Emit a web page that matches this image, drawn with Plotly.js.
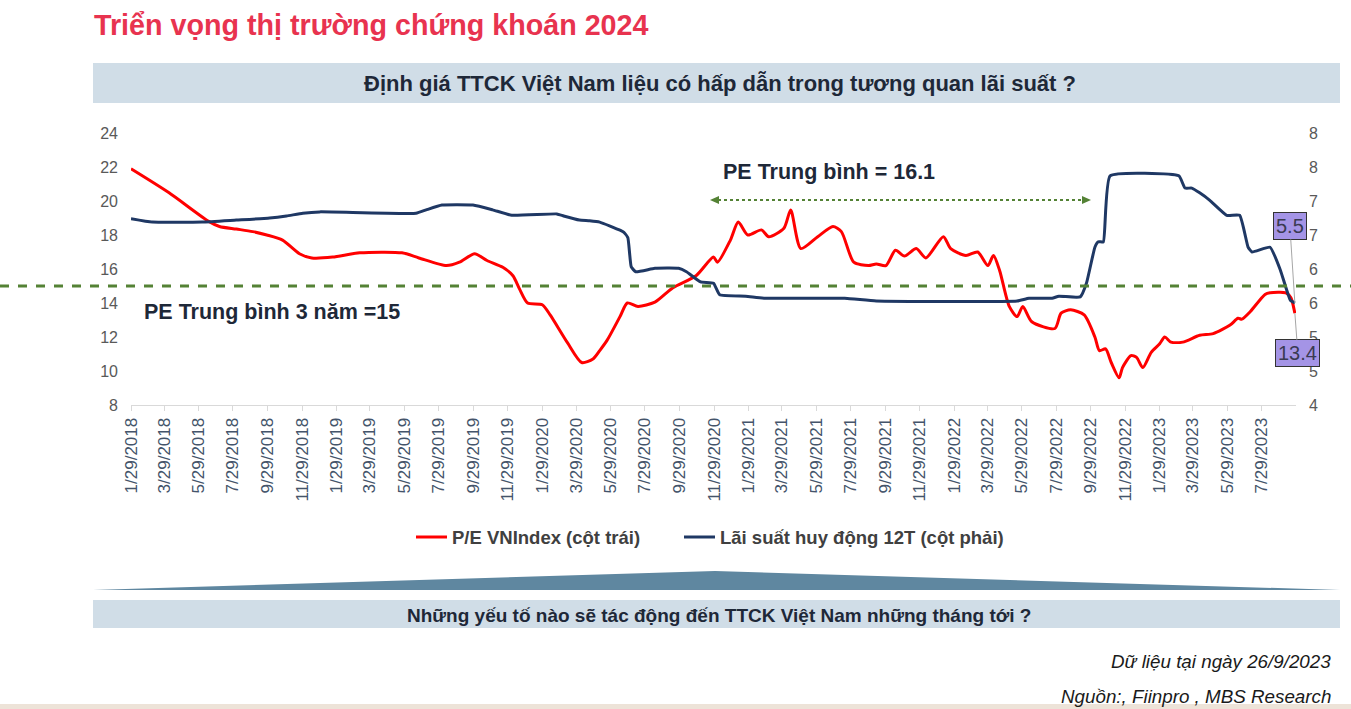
<!DOCTYPE html>
<html>
<head>
<meta charset="utf-8">
<script src="https://cdn.plot.ly/plotly-3.0.1.min.js"></script>
<style>
html,body{margin:0;padding:0;background:#fff;}
#chart{width:1351px;height:709px;}
</style>
</head>
<body>
<div id="chart"></div>
<script>
// ---------------- DATA ----------------
const peDates = [
"2018-01-29","2018-04-06","2018-06-16","2018-07-05","2018-08-04","2018-09-02","2018-09-27","2018-10-25",
"2018-11-24","2018-12-16","2019-01-22","2019-03-11","2019-05-25","2019-06-24","2019-08-12","2019-09-04",
"2019-10-01","2019-10-23","2019-11-20","2019-12-08","2019-12-20","2020-01-03","2020-01-29","2020-02-12",
"2020-03-14","2020-04-08","2020-04-28","2020-05-10","2020-05-23","2020-06-15","2020-06-28","2020-07-17",
"2020-08-16","2020-09-17","2020-10-28","2020-11-28","2020-12-05","2020-12-28","2021-01-11","2021-01-28",
"2021-02-21","2021-03-06","2021-04-02","2021-04-14","2021-05-02","2021-06-01","2021-06-28","2021-07-13",
"2021-08-04","2021-08-30","2021-09-13","2021-09-30","2021-10-17","2021-11-02","2021-11-23","2021-12-10",
"2022-01-10","2022-01-23","2022-02-19","2022-03-12","2022-03-30","2022-04-09","2022-04-20","2022-05-07",
"2022-05-21","2022-05-31","2022-06-16","2022-07-27","2022-08-07","2022-08-24","2022-09-17","2022-10-06",
"2022-10-14","2022-10-25","2022-11-04","2022-11-18","2022-11-24","2022-12-09","2022-12-19","2022-12-30",
"2023-01-14","2023-01-29","2023-02-07","2023-02-18","2023-03-11","2023-04-10","2023-05-04","2023-06-03",
"2023-06-17","2023-06-24","2023-07-09","2023-08-04","2023-08-13","2023-09-10","2023-09-19","2023-09-22",
"2023-09-26"];
const peValues = [
21.9,20.5,18.8,18.5,18.35,18.2,18.0,17.7,
16.9,16.65,16.7,16.95,16.95,16.65,16.2,16.4,
16.9,16.5,16.1,15.6,14.8,14.0,13.9,13.3,
11.65,10.5,10.7,11.2,11.8,13.2,14.0,13.8,
14.05,14.9,15.6,16.7,16.4,17.7,18.76,18.0,
18.3,17.9,18.4,19.47,17.2,17.9,18.5,18.2,
16.4,16.2,16.3,16.2,17.1,16.76,17.2,16.65,
17.9,17.2,16.8,17.0,16.2,16.8,15.9,13.8,
13.2,13.8,12.9,12.5,13.4,13.6,13.3,12.0,
11.2,11.3,10.5,9.6,10.2,10.9,10.8,10.2,
11.1,11.6,12.0,11.7,11.7,12.1,12.2,12.7,
13.1,13.05,13.5,14.5,14.6,14.6,14.3,14.0,
13.4];

const rateDates = [
"2018-01-29","2018-03-08","2018-06-04","2018-08-04","2018-10-02","2018-11-01","2018-11-30","2018-12-30",
"2019-06-19","2019-07-07","2019-08-04","2019-09-28","2019-11-02","2019-12-06","2020-02-24","2020-03-07",
"2020-04-04","2020-04-22","2020-05-10","2020-06-15","2020-06-22","2020-06-29","2020-07-05","2020-07-13",
"2020-08-16","2020-09-27","2020-10-11","2020-11-05","2020-11-28","2020-12-09","2021-01-24","2021-02-28",
"2021-07-19","2021-09-13","2022-05-21","2022-06-11","2022-07-22","2022-08-03","2022-09-10","2022-09-21",
"2022-10-06","2022-10-12","2022-10-21","2022-11-02","2023-03-04","2023-03-15","2023-03-27","2023-04-10",
"2023-04-28","2023-05-28","2023-06-20","2023-07-05","2023-07-12","2023-08-13","2023-08-31","2023-09-18",
"2023-09-26"];
const rateValues = [
6.74,6.69,6.69,6.72,6.75,6.78,6.82,6.84,
6.82,6.87,6.94,6.94,6.87,6.79,6.81,6.78,
6.72,6.71,6.69,6.57,6.54,6.46,6.03,5.96,
6.01,6.01,5.96,5.81,5.79,5.62,5.60,5.57,
5.57,5.53,5.53,5.57,5.57,5.60,5.59,5.79,
6.32,6.40,6.40,7.37,7.37,7.19,7.19,7.12,
7.01,6.79,6.79,6.32,6.25,6.32,5.99,5.54,
5.5];

const xTickDates = [
"2018-01-29","2018-03-29","2018-05-29","2018-07-29","2018-09-29","2018-11-29",
"2019-01-29","2019-03-29","2019-05-29","2019-07-29","2019-09-29","2019-11-29",
"2020-01-29","2020-03-29","2020-05-29","2020-07-29","2020-09-29","2020-11-29",
"2021-01-29","2021-03-29","2021-05-29","2021-07-29","2021-09-29","2021-11-29",
"2022-01-29","2022-03-29","2022-05-29","2022-07-29","2022-09-29","2022-11-29",
"2023-01-29","2023-03-29","2023-05-29","2023-07-29"];
const xTickLabels = [
"1/29/2018","3/29/2018","5/29/2018","7/29/2018","9/29/2018","11/29/2018",
"1/29/2019","3/29/2019","5/29/2019","7/29/2019","9/29/2019","11/29/2019",
"1/29/2020","3/29/2020","5/29/2020","7/29/2020","9/29/2020","11/29/2020",
"1/29/2021","3/29/2021","5/29/2021","7/29/2021","9/29/2021","11/29/2021",
"1/29/2022","3/29/2022","5/29/2022","7/29/2022","9/29/2022","11/29/2022",
"1/29/2023","3/29/2023","5/29/2023","7/29/2023"];

const leftTickVals = [8,10,12,14,16,18,20,22,24];
const rightTickVals = [4,4.5,5,5.5,6,6.5,7,7.5,8];
const rightTickText = ["4","5","5","6","6","7","7","8","8"];

const xRange = ["2018-01-29","2023-09-28"];
const leftRange = [8,24];
const rightRange = [4,8];

const peAverage3y = 15;
const peLabel = "P/E VNIndex (cột trái)";
const rateLabel = "Lãi suất huy động 12T (cột phải)";
const lastPE = 13.4;
const lastRate = 5.5;

// ---------------- LAYOUT HELPERS ----------------
const W = 1351, H = 709;
const L = 131, R = 1296, T = 133, B = 405;
const px = x => (x - L) / (R - L);
const py = y => (B - y) / (B - T);

const FONT = '"Liberation Sans", Arial, sans-serif';
const RED = '#FF0000', NAVY = '#1F3864';

const traces = [
  {
    x: peDates, y: peValues, name: peLabel, type: 'scatter', mode: 'lines',
    line: {color: RED, width: 3, shape: 'spline', smoothing: 0.7},
    yaxis: 'y', hoverinfo: 'x+y'
  },
  {
    x: rateDates, y: rateValues, name: rateLabel, type: 'scatter', mode: 'lines',
    line: {color: NAVY, width: 3, shape: 'spline', smoothing: 0.4},
    yaxis: 'y2', hoverinfo: 'x+y'
  }
];

function tri(x1,y1,x2,y2,x3,y3){
  return `M ${px(x1)},${py(y1)} L ${px(x2)},${py(y2)} L ${px(x3)},${py(y3)} Z`;
}

const shapes = [
  {type:'rect', xref:'paper', yref:'paper', x0:px(93), x1:px(1340), y0:py(103), y1:py(63),
   fillcolor:'#D0DDE7', line:{width:0}, layer:'below'},
  {type:'rect', xref:'paper', yref:'paper', x0:px(93), x1:px(1340), y0:py(628), y1:py(600),
   fillcolor:'#D0DDE7', line:{width:0}, layer:'below'},
  {type:'path', xref:'paper', yref:'paper', path: tri(93,590,715,571,1340,590),
   fillcolor:'#5F87A0', line:{width:0}, layer:'below'},
  {type:'rect', xref:'paper', yref:'paper', x0:px(0), x1:px(1351), y0:py(709), y1:py(704),
   fillcolor:'#EDE3D8', line:{width:0}, layer:'below'},
  {type:'line', xref:'paper', yref:'paper', x0:px(0), x1:px(1351),
   y0:(peAverage3y-leftRange[0])/(leftRange[1]-leftRange[0]),
   y1:(peAverage3y-leftRange[0])/(leftRange[1]-leftRange[0]),
   line:{color:'#548235', width:3, dash:'dash'}},
  {type:'line', xref:'paper', yref:'paper', x0:px(718), x1:px(1083), y0:py(200), y1:py(200),
   line:{color:'#548235', width:2, dash:'dot'}},
  {type:'path', xref:'paper', yref:'paper', path: tri(710,200,719,196,719,204),
   fillcolor:'#548235', line:{width:0}},
  {type:'path', xref:'paper', yref:'paper', path: tri(1091,200,1082,196,1082,204),
   fillcolor:'#548235', line:{width:0}},
  // legend samples
  {type:'line', xref:'paper', yref:'paper', x0:px(416), x1:px(447), y0:py(537), y1:py(537),
   line:{color:RED, width:3}},
  {type:'line', xref:'paper', yref:'paper', x0:px(684), x1:px(715), y0:py(537), y1:py(537),
   line:{color:NAVY, width:3}}
];

const annotations = [
  {xref:'paper', yref:'paper', x:px(720), y:py(83), text:'Định giá TTCK Việt Nam liệu có hấp dẫn trong tương quan lãi suất ?',
   showarrow:false, font:{family:FONT, size:22, color:'#1E2838', weight:'bold'}, xanchor:'center', yanchor:'middle'},
  {xref:'paper', yref:'paper', x:px(721), y:py(172), text:'PE Trung bình = 16.1',
   showarrow:false, font:{family:FONT, size:21.5, color:'#1E2838', weight:'bold'}, xanchor:'left', yanchor:'middle'},
  {xref:'paper', yref:'paper', x:px(142), y:py(312), text:'PE Trung bình 3 năm =15',
   showarrow:false, font:{family:FONT, size:21.5, color:'#1E2838', weight:'bold'}, xanchor:'left', yanchor:'middle'},
  {x: rateDates[rateDates.length-1], y: lastRate, xref:'x', yref:'y2', text: String(lastRate),
   showarrow:true, arrowhead:0, arrowwidth:1, arrowcolor:'#A6A6A6', ax:-5, ay:-77,
   bgcolor:'#A494E6', bordercolor:'#333333', borderwidth:1, borderpad:2,
   font:{family:FONT, size:20, color:'#3A3A52'}},
  {x: peDates[peDates.length-1], y: lastPE, xref:'x', yref:'y', text: String(lastPE),
   showarrow:true, arrowhead:0, arrowwidth:1, arrowcolor:'#A6A6A6', ax:3, ay:40,
   bgcolor:'#A494E6', bordercolor:'#333333', borderwidth:1, borderpad:2,
   font:{family:FONT, size:20, color:'#3A3A52'}},
  // legend labels
  {xref:'paper', yref:'paper', x:px(450), y:py(537), text: peLabel,
   showarrow:false, font:{family:FONT, size:18.5, color:'#404040', weight:'bold'}, xanchor:'left', yanchor:'middle'},
  {xref:'paper', yref:'paper', x:px(718), y:py(537), text: rateLabel,
   showarrow:false, font:{family:FONT, size:18.5, color:'#404040', weight:'bold'}, xanchor:'left', yanchor:'middle'},
  {xref:'paper', yref:'paper', x:px(719), y:py(615), text:'Những yếu tố nào sẽ tác động đến TTCK Việt Nam những tháng tới ?',
   showarrow:false, font:{family:FONT, size:19, color:'#1E2838', weight:'bold'}, xanchor:'center', yanchor:'middle'},
  {xref:'paper', yref:'paper', x:px(1333), y:py(661), text:'<i>Dữ liệu tại ngày 26/9/2023</i>',
   showarrow:false, font:{family:FONT, size:18.8, color:'#1A1A1A'}, xanchor:'right', yanchor:'middle'},
  {xref:'paper', yref:'paper', x:px(1333), y:py(697), text:'<i>Nguồn:, Fiinpro , MBS Research</i>',
   showarrow:false, font:{family:FONT, size:18.8, color:'#1A1A1A'}, xanchor:'right', yanchor:'middle'}
];

const layout = {
  width: W, height: H,
  margin: {l: L, r: W - R, t: T, b: H - B, pad: 0},
  paper_bgcolor: '#FFFFFF', plot_bgcolor: '#FFFFFF',
  title: {text: 'Triển vọng thị trường chứng khoán 2024', xref:'container', yref:'container',
          x: 94/W, xanchor:'left', y: 1 - 25/H, yanchor:'middle',
          font: {family: FONT, size: 28.7, color: '#E8334F', weight: 'bold'}},
  showlegend: false,
  xaxis: {type:'date', range: xRange, tickvals: xTickDates, ticktext: xTickLabels, tickangle: -90,
          showgrid:false, zeroline:false, showline:true, linecolor:'#D9D9D9', linewidth:1,
          ticks:'outside', ticklen:5, tickcolor:'#D9D9D9',
          tickfont:{family:FONT, size:17, color:'#44546A'}},
  yaxis: {range: leftRange, tickvals: leftTickVals, showgrid:false, zeroline:false, showline:false,
          ticks:'', ticklabelstandoff: 12, tickfont:{family:FONT, size:16, color:'#595959'}},
  yaxis2: {range: rightRange, tickvals: rightTickVals, ticktext: rightTickText, overlaying:'y', side:'right',
           showgrid:false, zeroline:false, showline:false, ticks:'', ticklabelstandoff: 12,
           tickfont:{family:FONT, size:16, color:'#595959'}},
  shapes: shapes,
  annotations: annotations
};

Plotly.newPlot('chart', traces, layout, {displayModeBar:false, staticPlot:true});
</script>
</body>
</html>
